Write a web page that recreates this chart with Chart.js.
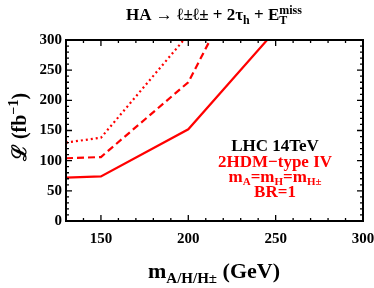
<!DOCTYPE html>
<html>
<head>
<meta charset="utf-8">
<script src="https://cdn.jsdelivr.net/npm/chart.js@4"></script>
<style>
  html, body { margin: 0; padding: 0; background: #fff; }
  #wrap { width: 374px; height: 288px; }
</style>
</head>
<body>
<div id="wrap"><canvas id="c" width="374" height="288"></canvas></div>
<script>
// datos
const masses = [130, 150, 200, 250];
const solidL = [72, 74, 152, 316];
const dashedL = [104, 106, 230, 510];
const dottedL = [130, 138, 309];
const xTicks = [150, 200, 250, 300];
const yTicks = [0, 50, 100, 150, 200, 250, 300];

const SERIF = '"Liberation Serif", "DejaVu Serif", "Times New Roman", serif';

function toPoints(ys) {
    return ys.map((y, i) => ({ x: masses[i], y: y }));
}

// texto con sub/superindices
function richWidth(ctx, parts) {
    let w = 0;
    parts.forEach(p => {
        ctx.font = 'bold ' + p.s + 'px ' + SERIF;
        if (p.stack) {
            w += Math.max(ctx.measureText(p.sup).width, ctx.measureText(p.sub).width);
        } else {
            w += ctx.measureText(p.t).width;
        }
    });
    return w;
}

function drawRich(ctx, parts, cx, base, color) {
    ctx.fillStyle = color;
    ctx.textBaseline = 'alphabetic';
    ctx.textAlign = 'left';
    let x = cx - richWidth(ctx, parts) / 2;
    parts.forEach(p => {
        ctx.font = 'bold ' + p.s + 'px ' + SERIF;
        if (p.stack) {
            ctx.fillText(p.sup, x, base + p.dyUp);
            ctx.fillText(p.sub, x, base + p.dyDown);
            x += Math.max(ctx.measureText(p.sup).width, ctx.measureText(p.sub).width);
        } else {
            ctx.fillText(p.t, x, base + (p.dy || 0));
            x += ctx.measureText(p.t).width;
        }
    });
}

const decoPlugin = {
    id: 'deco',
    afterDraw(chart) {
        const ctx = chart.ctx;
        const a = chart.chartArea;
        const xs = chart.scales.x, ys = chart.scales.y;
        ctx.save();

        // marco
        ctx.strokeStyle = '#000';
        ctx.lineWidth = 2;
        ctx.strokeRect(a.left, a.top, a.right - a.left, a.bottom - a.top);

        // marcas hacia dentro en los cuatro lados
        ctx.lineWidth = 1.3;
        ctx.beginPath();
        for (let v = 130; v <= 300; v += 10) {
            const px = xs.getPixelForValue(v);
            const len = v % 50 === 0 ? 6 : 3;
            ctx.moveTo(px, a.bottom); ctx.lineTo(px, a.bottom - len);
            ctx.moveTo(px, a.top); ctx.lineTo(px, a.top + len);
        }
        for (let v = 0; v <= 300; v += 10) {
            const py = ys.getPixelForValue(v);
            const len = v % 50 === 0 ? 6 : 3;
            ctx.moveTo(a.left, py); ctx.lineTo(a.left + len, py);
            ctx.moveTo(a.right, py); ctx.lineTo(a.right - len, py);
        }
        ctx.stroke();

        // titulo
        drawRich(ctx, [
            { t: 'HA \u2192 \u2113\u00b1\u2113\u00b1 + 2\u03c4', s: 17 },
            { t: 'h', s: 12, dy: 4 },
            { t: ' + E', s: 17 },
            { stack: true, s: 12, sup: 'miss', sub: 'T', dyUp: -6, dyDown: 4 }
        ], 214, 20, '#000');

        // eje x
        drawRich(ctx, [
            { t: 'm', s: 22 },
            { t: 'A/H/H\u00b1', s: 15, dy: 5 },
            { t: ' (GeV)', s: 22 }
        ], 214, 278, '#000');

        // eje y (rotado)
        ctx.save();
        ctx.translate(26, 127);
        ctx.rotate(-Math.PI / 2);
        drawRich(ctx, [
            { t: '\u2112 (fb', s: 20 },
            { t: '\u22121', s: 14, dy: -8 },
            { t: ')', s: 20 }
        ], 0, 0, '#000');
        ctx.restore();

        // anotaciones
        drawRich(ctx, [{ t: 'LHC 14TeV', s: 17 }], 275, 151, '#000');
        drawRich(ctx, [{ t: '2HDM\u2212type IV', s: 17 }], 275, 167, '#ff0000');
        drawRich(ctx, [
            { t: 'm', s: 17 }, { t: 'A', s: 11, dy: 3 },
            { t: '=m', s: 17 }, { t: 'H', s: 11, dy: 3 },
            { t: '=m', s: 17 }, { t: 'H\u00b1', s: 11, dy: 3 }
        ], 275, 182, '#ff0000');
        drawRich(ctx, [{ t: 'BR=1', s: 17 }], 275, 197, '#ff0000');

        ctx.restore();
    }
};

const lineStyle = {
    borderColor: '#ff0000',
    borderWidth: 2.2,
    pointRadius: 0,
    fill: false,
    tension: 0
};

new Chart(document.getElementById('c').getContext('2d'), {
    type: 'line',
    data: {
        datasets: [
            Object.assign({ data: toPoints(solidL) }, lineStyle),
            Object.assign({ data: toPoints(dashedL), borderDash: [7, 4] }, lineStyle),
            Object.assign({ data: toPoints(dottedL), borderDash: [2, 3] }, lineStyle)
        ]
    },
    options: {
        responsive: false,
        animation: false,
        events: [],
        layout: { padding: { top: 40, right: 11, left: 0, bottom: 0 } },
        plugins: {
            legend: { display: false },
            tooltip: { enabled: false }
        },
        scales: {
            x: {
                type: 'linear',
                min: 130,
                max: 300,
                grid: { display: false, drawTicks: false },
                border: { display: false },
                afterBuildTicks: s => { s.ticks = xTicks.map(v => ({ value: v })); },
                afterFit: s => { s.height = 67; s.paddingLeft = 0; s.paddingRight = 0; },
                ticks: {
                    color: '#000',
                    padding: 9,
                    maxRotation: 0,
                    font: { family: SERIF, size: 15, weight: 'bold' }
                }
            },
            y: {
                min: 0,
                max: 300,
                grid: { display: false, drawTicks: false },
                border: { display: false },
                afterBuildTicks: s => { s.ticks = yTicks.map(v => ({ value: v })); },
                afterFit: s => { s.width = 66; s.paddingTop = 0; s.paddingBottom = 0; },
                ticks: {
                    color: '#000',
                    padding: 4,
                    font: { family: SERIF, size: 15, weight: 'bold' }
                }
            }
        }
    },
    plugins: [decoPlugin]
});
</script>
</body>
</html>
